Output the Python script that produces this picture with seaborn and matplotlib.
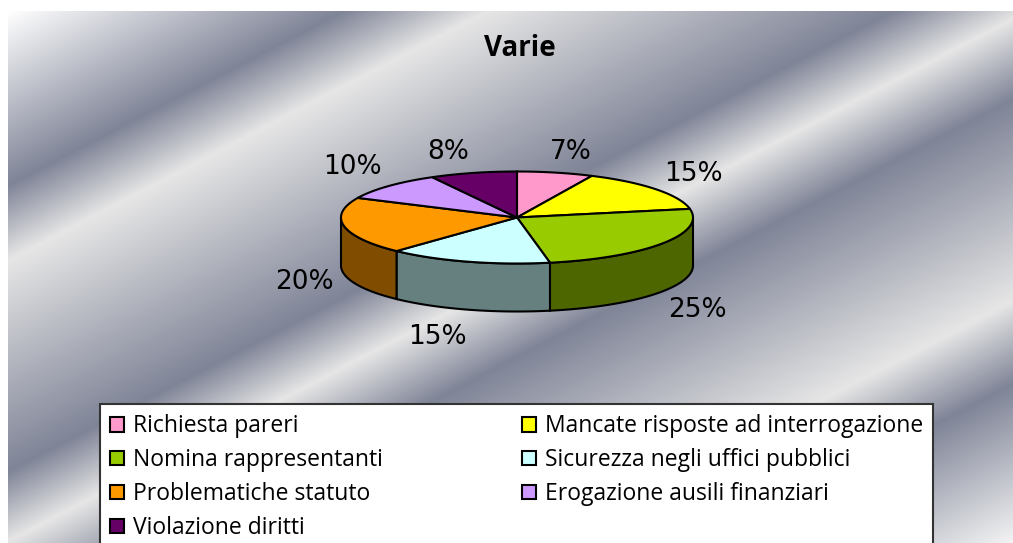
import numpy as np
import matplotlib
matplotlib.use("Agg")
import matplotlib.pyplot as plt
from matplotlib.patches import Patch
from matplotlib.colors import to_rgb
import seaborn as sns

categories = ["Richiesta pareri", "Mancate risposte ad interrogazione", "Nomina rappresentanti",
              "Sicurezza negli uffici pubblici", "Problematiche statuto",
              "Erogazione ausili finanziari", "Violazione diritti"]
values = [7, 15, 25, 15, 20, 10, 8]
colors = ["#FF99CC", "#FFFF00", "#99CC00", "#CCFFFF", "#FF9900", "#CC99FF", "#660066"]

# background stripes, position along the diagonal and colour
band_pos = [15, 189, 264, 475, 545, 625, 827, 910, 1070]
band_col = ["#ffffff", "#7f8497", "#e6e6e6", "#7f8497", "#e6e6e6", "#7f8497", "#e6e6e6", "#7f8497", "#f5f5f5"]

# pixel offset of each % label from its slice
label_off = [(15, -21), (37, -15), (35, 19), (-30, 27), (-40, 8), (-36, -19), (-25, -21)]

sns.set_theme(style="white")
plt.rcParams["font.family"] = ["Open Sans", "DejaVu Sans"]

W, H = 1013, 543
cx, cy, rx, ry, depth = 517, 217.5, 176, 46, 48

fig = plt.figure(figsize=(W / 100, H / 100), dpi=100, facecolor="white")
ax = fig.add_axes([0, 0, 1, 1])

# gradient background
xx, yy = np.meshgrid(np.arange(8, W), np.arange(11, H))
t = yy + 0.52 * xx
rgb = np.array([to_rgb(c) for c in band_col])
img = np.dstack([np.interp(t, band_pos, rgb[:, i]) for i in range(3)])
ax.imshow(img, extent=[8, W, H, 11], aspect="auto", interpolation="bilinear", zorder=0)


def arc(a0, a1, dy=0):
    a = np.radians(np.linspace(a0, a1, 80))
    return cx + rx * np.sin(a), cy + dy - ry * np.cos(a)


edges = np.cumsum([0] + values) * 3.6
palette = sns.color_palette(colors)

# front wall
for i in range(len(values)):
    a0, a1 = max(edges[i], 90), min(edges[i + 1], 270)
    if a0 >= a1:
        continue
    x1, y1 = arc(a0, a1)
    x2, y2 = arc(a1, a0, depth)
    dark = tuple(c * 0.5 for c in palette[i])
    ax.fill(np.r_[x1, x2], np.r_[y1, y2], facecolor=dark, edgecolor="black", lw=1.5, zorder=2)

# top of the pie
for i in range(len(values)):
    x1, y1 = arc(edges[i], edges[i + 1])
    ax.fill(np.r_[cx, x1], np.r_[cy, y1], facecolor=palette[i], edgecolor="black", lw=1.5, zorder=3)

# percentages
for i, v in enumerate(values):
    mid = (edges[i] + edges[i + 1]) / 2
    x, y = arc(mid, mid)
    y = y[0] + (depth if 90 < mid < 270 else 0)
    ax.annotate(f"{v}%", xy=(x[0], y), xytext=(label_off[i][0], -label_off[i][1]),
                textcoords="offset pixels", ha="center", va="center",
                fontsize=19, family="DejaVu Sans", color="black", zorder=4)

ax.text(520, 49, "Varie", ha="center", va="center", fontsize=20, fontweight="bold", color="black", zorder=4)

# legend, filled column by column
order = [0, 2, 4, 6, 1, 3, 5]
handles = [Patch(facecolor=colors[i], edgecolor="black", lw=1.5, label=categories[i]) for i in order]
leg = ax.legend(handles=handles, ncol=2, loc="upper left", bbox_to_anchor=(100, 404),
                bbox_transform=ax.transData, borderaxespad=0, fontsize=16.5, labelcolor="black",
                frameon=True, fancybox=False, framealpha=1, facecolor="white", edgecolor="#333333",
                handlelength=0.6, handleheight=0.6, handletextpad=0.38, labelspacing=0.43,
                columnspacing=6.1, borderpad=0.45)
leg.get_frame().set_linewidth(1.5)
leg.set_zorder(5)

ax.set_xlim(0, W)
ax.set_ylim(H, 0)
ax.axis("off")

fig.savefig("out.png", dpi=100)
